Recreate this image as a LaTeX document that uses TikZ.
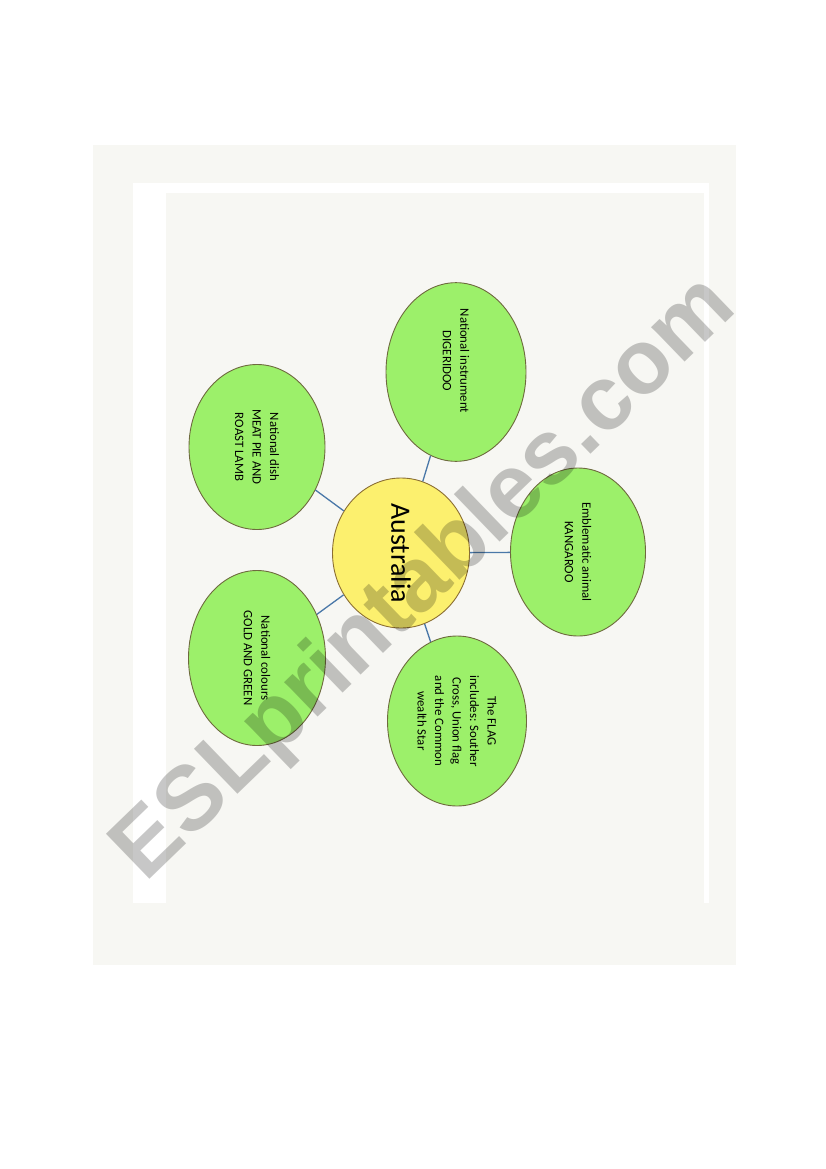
\documentclass[tikz,border=0pt]{standalone}
\usepackage{fontspec}
\usepackage{tikz}
\setmainfont{Carlito}
\newfontfamily\wmfont{Liberation Sans}
\definecolor{paper}{HTML}{F7F7F3}
\definecolor{vert}{HTML}{9CF06A}
\definecolor{jaune}{HTML}{FCF06E}
\definecolor{bord}{HTML}{6E6A3E}
\definecolor{lien}{HTML}{4A78A8}
\usetikzlibrary{shapes.geometric}
\tikzset{bulle/.style={
    ellipse,
    inner sep=0pt,
    rotate=-90,
    align=center,
    draw=bord,
    line width=0.9pt,
    fill=vert,
    font=\fontsize{12.8}{17.5}\selectfont}}
\tikzset{lien/.style={
    draw=lien,
    line width=1.3pt}}

\begin{document}
\begin{tikzpicture}[x=1pt, y=-1pt]

\useasboundingbox (0,0) rectangle (826,1169);
\fill[paper] (93,145) rectangle (736,965);
\fill[white] (133,183) rectangle (709,903);
\fill[paper] (166,193) rectangle (704,903);

\node[bulle,
  fill=jaune,
  draw=bord!80!orange,
  minimum width=150pt,
  minimum height=137pt,
  font=\fontsize{28}{30}\selectfont] (aus) at (401,553) {Australia};

\node[bulle,
  minimum width=176pt,
  minimum height=140pt] (instrument) at (456,372) {National instrument\hspace*{22pt}\\DIGERIDOO\hspace*{22pt}};

\node[bulle,
  minimum width=165pt,
  minimum height=136pt] (dish) at (257,447) {National dish\\MEAT PIE AND\\ROAST LAMB};

\node[bulle,
  minimum width=168pt,
  minimum height=135pt] (animal) at (578,552) {Emblematic animal\\KANGAROO};

\node[bulle,
  minimum width=175pt,
  minimum height=137pt] (colours) at (257,658) {National colours\\GOLD AND GREEN};

\node[bulle,
  minimum width=170pt,
  minimum height=139pt] (flag) at (457,721) {The FLAG\\includes: Souther\\Cross, Union flag\\and the Common\\wealth Star};

\draw[lien] (aus) -- (instrument);
\draw[lien] (aus) -- (dish);
\draw[lien] (aus) -- (animal);
\draw[lien] (aus) -- (colours);
\draw[lien] (aus) -- (flag);

\node[rotate=44,
  text=black,
  opacity=0.22,
  font=\wmfont\bfseries\fontsize{91}{91}\selectfont] (wm) at (426,580) {ESLprintables.com};

\end{tikzpicture}
\end{document}
